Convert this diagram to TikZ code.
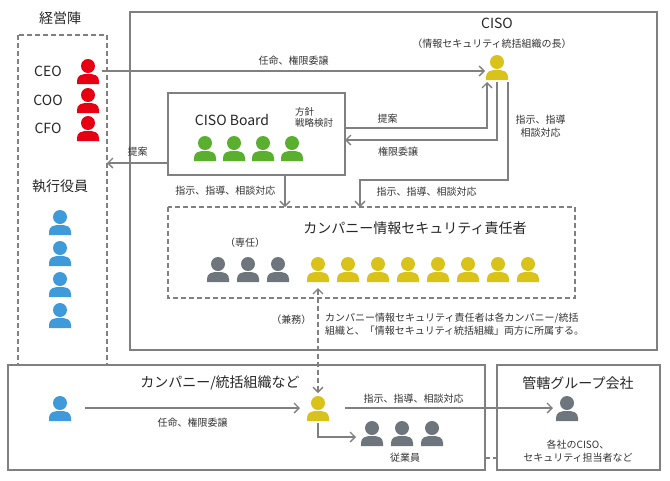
\documentclass[tikz,border=0pt]{standalone}
\usepackage{fontspec}
\setmainfont{Noto Sans CJK JP}
\usetikzlibrary{arrows.meta}
\definecolor{lgray}{HTML}{808080}
\definecolor{pgray}{HTML}{6E757C}
\definecolor{pred}{HTML}{E60012}
\definecolor{pgreen}{HTML}{5BAF2F}
\definecolor{pyellow}{HTML}{D9C21A}
\definecolor{pblue}{HTML}{3E9AD8}
\tikzset{
  box/.style={draw=lgray,line width=1.6pt},
  dbox/.style={draw=lgray,line width=1.4pt,dash pattern=on 5pt off 3pt},
  conn/.style={draw=lgray,line width=1.3pt,-{Straight Barb[length=5pt,width=10pt]}},
  lbl/.style={font=\fontsize{10}{13.5}\selectfont,text=black!80,inner sep=1pt},
  ttl/.style={font=\fontsize{14}{17}\selectfont,text=black!85,inner sep=1pt},
  person/.pic={
    \fill (0,-5) circle (7);
    \fill (-11,13) -- (-11,10) .. controls (-11,4) and (-6,3) .. (0,3)
      .. controls (6,3) and (11,4) .. (11,10) -- (11,13) -- cycle;
  }
}
\begin{document}
\begin{tikzpicture}[x=1pt,y=-1pt]
  \useasboundingbox (0,0) rectangle (670,480);
  % frames
  \draw[dbox] (18,35) rectangle (107,365);
  \draw[box] (130,12) rectangle (657,350);
  \draw[box,fill=white] (168,93) rectangle (345,175);
  \draw[dbox] (168,207) rectangle (575,298);
  \draw[box,fill=white] (8,365) rectangle (485,470);
  \draw[box] (497,365) rectangle (660,470);
  \draw[dbox] (485,458) -- (497,458);

  % management
  \node[ttl] (mgmt) at (60,18) {経営陣};
  \node[ttl] (ceo) at (48,71) {CEO};
  \node[ttl] (coo) at (48,100) {COO};
  \node[ttl] (cfo) at (48,128) {CFO};
  \foreach \y in {71,100,128} \pic[color=pred] at (88,\y) {person};
  \node[ttl] (exec) at (60,186) {執行役員};
  \foreach \y in {222,253,284,315} \pic[color=pblue] at (60,\y) {person};
  \coordinate (ceoR) at (102,71);
  \coordinate (mgmtR) at (107,163);

  % CISO
  \node[ttl] (ciso) at (497,23) {CISO};
  \node[lbl] (cisosub) at (492,44) {（情報セキュリティ統括組織の長）};
  \pic[color=pyellow] at (497,67) {person};
  \coordinate (cisoL) at (485,71);
  \coordinate (cisoA) at (487,82);
  \coordinate (cisoB) at (497,82);
  \coordinate (cisoC) at (508,82);

  % board
  \node[ttl] (board) at (232,120) {CISO Board};
  \node[lbl,align=left,font=\fontsize{9.5}{11}\selectfont] (policy) at (314,117) {方針\\戦略検討};
  \foreach \x in {205,234,263,292} \pic[color=pgreen] at (\x,148) {person};
  \coordinate (boardL) at (168,163);
  \coordinate (boardR1) at (345,128);
  \coordinate (boardR2) at (345,140);
  \coordinate (boardB) at (285,175);

  % company security officers
  \node[ttl] (officer) at (415,228) {カンパニー情報セキュリティ責任者};
  \node[lbl] (full) at (245,243) {（専任）};
  \foreach \x in {218,248,278} \pic[color=pgray] at (\x,269) {person};
  \foreach \x in {318,348,...,528} \pic[color=pyellow] at (\x,269) {person};
  \coordinate (offT1) at (285,207);
  \coordinate (offT2) at (360,207);
  \coordinate (offB) at (318,288);

  % bottom
  \node[ttl] (company) at (220,383) {カンパニー/統括組織など};
  \pic[color=pblue] at (60,408) {person};
  \pic[color=pyellow] at (318,408) {person};
  \foreach \x in {372,402,432} \pic[color=pgray] at (\x,433) {person};
  \node[lbl] (staff) at (405,458) {従業員};
  \node[ttl] (group) at (578,383) {管轄グループ会社};
  \pic[color=pgray] at (567,408) {person};
  \node[lbl,align=center] (groupciso) at (578,451) {各社のCISO、\\セキュリティ担当者など};
  \coordinate (blueR) at (85,408);
  \coordinate (yelL) at (300,408);
  \coordinate (yelT) at (318,393);
  \coordinate (yelR) at (345,408);
  \coordinate (yelB) at (318,423);
  \coordinate (staffL) at (356,437);
  \coordinate (groupL) at (553,408);

  % connectors
  \draw[conn] (ceoR) -- node[lbl,above=4pt] {任命、権限委譲} (cisoL);
  \draw[conn] (boardL) -- node[lbl,above=5pt] {提案} (mgmtR);
  \draw[conn] (boardR1) -- node[lbl,pos=0.3,above=3pt] {提案} (boardR1 -| cisoA) -- (cisoA);
  \draw[conn] (cisoB) -- (cisoB |- boardR2) -- node[lbl,pos=0.65,below=5pt] {権限委譲} (boardR2);
  \draw[conn] (cisoC) -- node[lbl,align=center,pos=0.45,right=6pt] {指示、指導\\相談対応} (cisoC |- 0,180) -- node[lbl,pos=0.55,below=5pt] {指示、指導、相談対応} (offT2 |- 0,180) -- (offT2);
  \draw[conn] (boardB) -- node[lbl,left=8pt] {指示、指導、相談対応} (offT1);
  \draw[draw=lgray,line width=1.3pt,dash pattern=on 5pt off 3pt,{Straight Barb[length=5pt,width=10pt]}-{Straight Barb[length=5pt,width=10pt]}] (offB) -- node[lbl,pos=0.3,left=5pt] {（兼務）} (yelT);
  \node[lbl,align=left,anchor=west] (note) at (324,324) {カンパニー情報セキュリティ責任者は各カンパニー/統括\\組織と、「情報セキュリティ統括組織」両方に所属する。};
  \draw[conn] (blueR) -- node[lbl,pos=0.5,below=8pt] {任命、権限委譲} (yelL);
  \draw[conn] (yelR) -- node[lbl,pos=0.33,above=3pt] {指示、指導、相談対応} (groupL);
  \draw[conn] (yelB) -- (yelB |- staffL) -- (staffL);
\end{tikzpicture}
\end{document}
